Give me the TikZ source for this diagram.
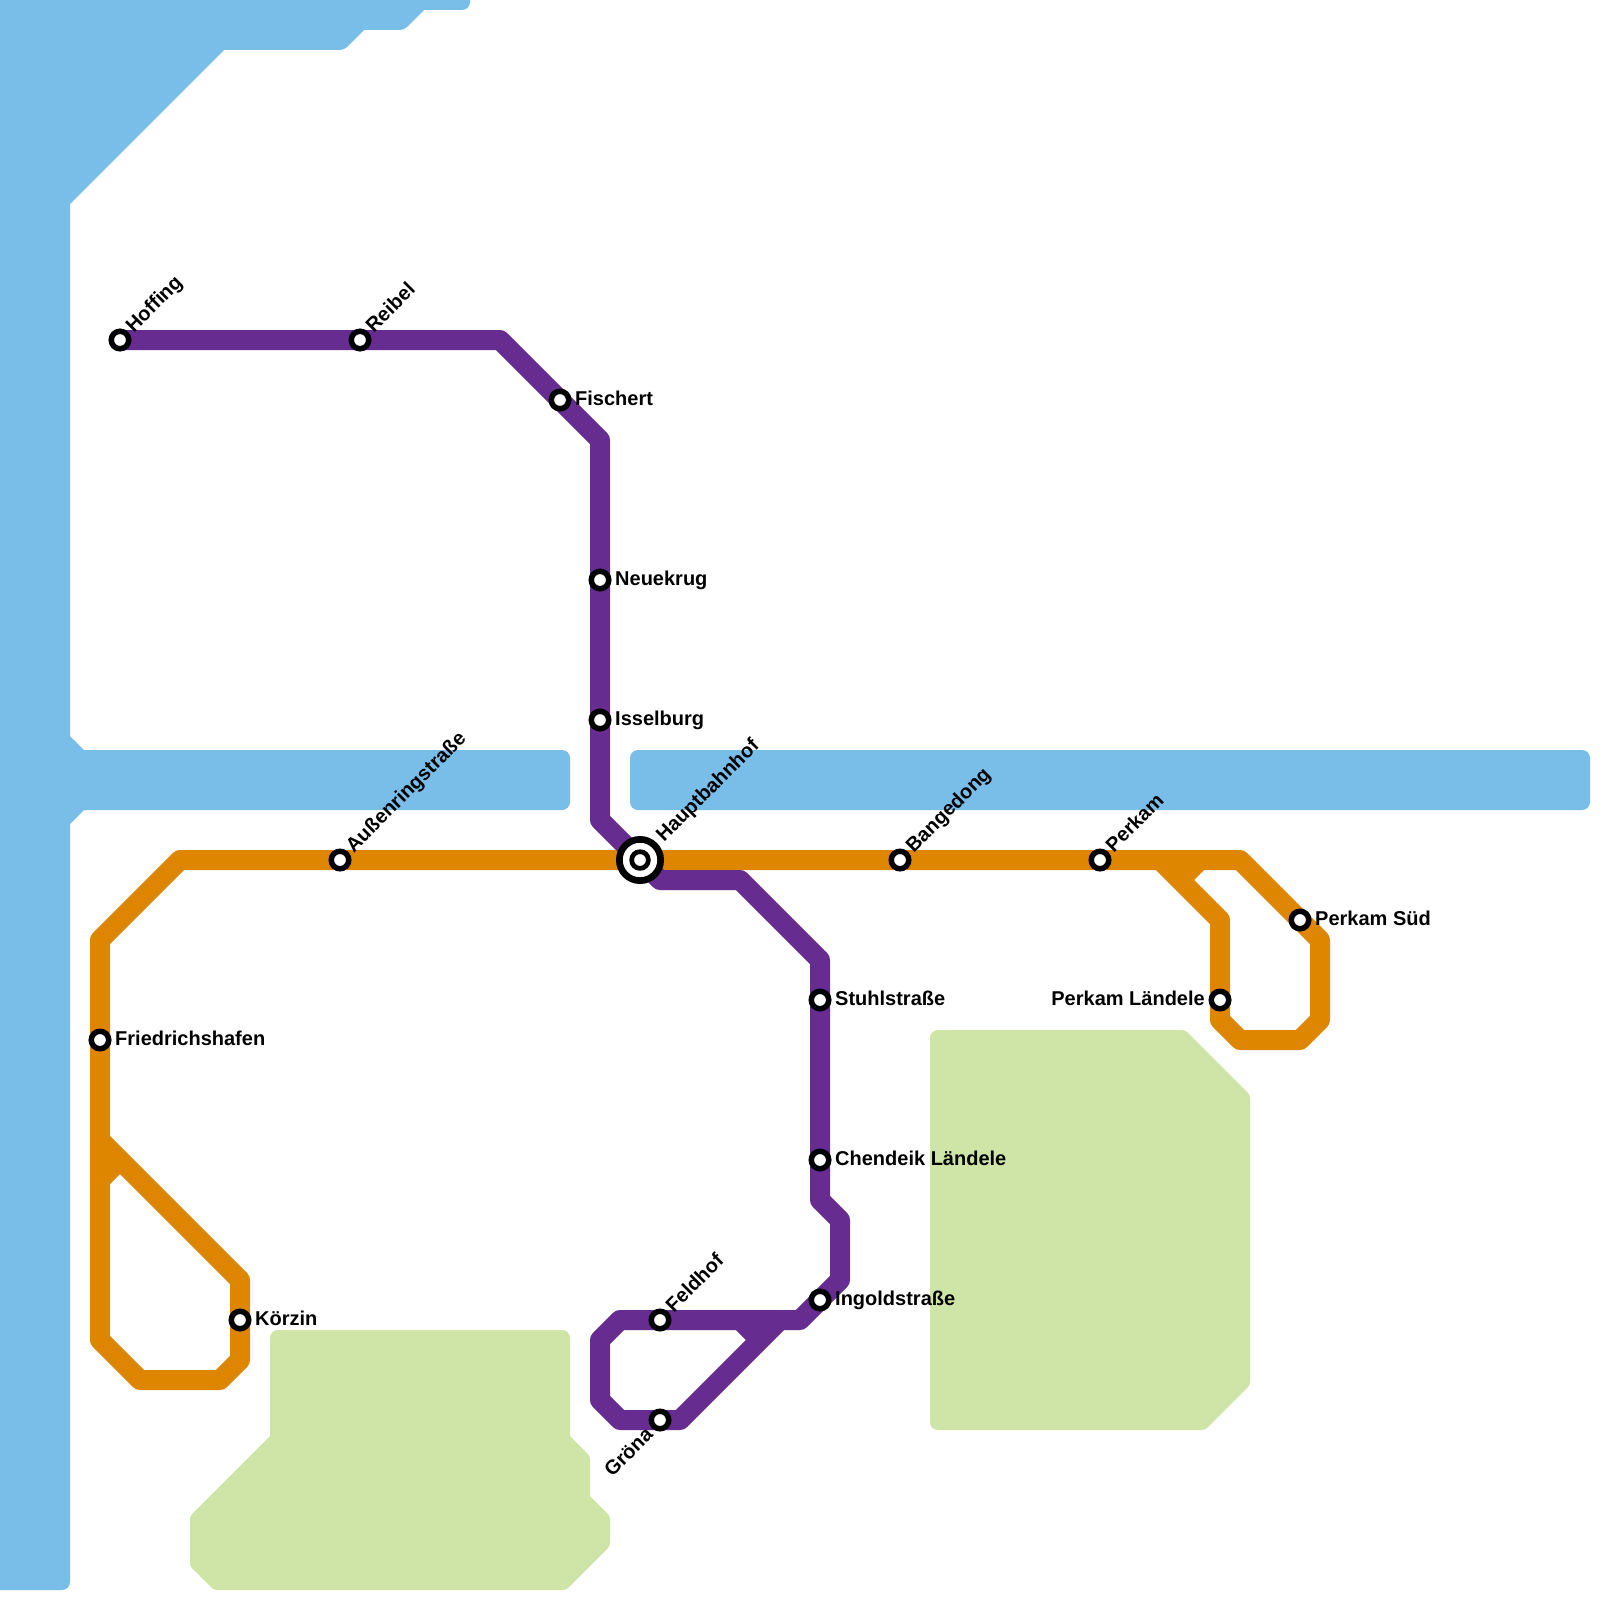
\documentclass[tikz,border=0pt]{standalone}
\usepackage{fontspec}
\setmainfont{Liberation Sans}
\usetikzlibrary{positioning,backgrounds}
\definecolor{waterblue}{RGB}{121,189,233}
\definecolor{parkgreen}{RGB}{207,228,167}
\definecolor{lineorange}{RGB}{223,134,0}
\definecolor{linepurple}{RGB}{102,44,144}
\tikzset{
  water/.style={fill=waterblue},
  park/.style={fill=parkgreen},
  route/.style={line width=20pt, line join=round},
  orangeroute/.style={route, draw=lineorange},
  purpleroute/.style={route, draw=linepurple},
  stop/.style={circle, draw=black, fill=white, line width=5.5pt, inner sep=0pt, minimum size=17.5pt},
  hubring/.style={stop, line width=6.7pt, minimum size=41.3pt},
  hubdot/.style={stop, line width=4.7pt, minimum size=16.7pt},
  lbl/.style={font=\fontsize{20}{22}\selectfont\bfseries, inner sep=0pt, text=black},
  lblright/.style={lbl, anchor=base west, yshift=-5pt},
  lblleft/.style={lbl, anchor=base east, yshift=-5pt},
  diag/.style={lbl, rotate=45},
}

\begin{document}
\begin{tikzpicture}[x=1pt, y=-1pt, node distance=4pt and 4pt]
  \useasboundingbox (0,0) rectangle (1600,1600);
  % stations
  \node[stop] (hoffing) at (120,340) {};
  \node[stop] (reibel) at (360,340) {};
  \node[stop] (fischert) at (560,400) {};
  \node[stop] (neuekrug) at (600,580) {};
  \node[stop] (isselburg) at (600,720) {};
  \node[hubring] (hbfring) at (640,860) {};
  \node[hubdot] (hbf) at (640,860) {};
  \node[stop] (aussenring) at (340,860) {};
  \node[stop] (bangedong) at (900,860) {};
  \node[stop] (perkam) at (1100,860) {};
  \node[stop] (perkamsued) at (1300,920) {};
  \node[stop] (perkamland) at (1220,1000) {};
  \node[stop] (friedrichshafen) at (100,1040) {};
  \node[stop] (koerzin) at (240,1320) {};
  \node[stop] (stuhl) at (820,1000) {};
  \node[stop] (chendeik) at (820,1160) {};
  \node[stop] (ingold) at (820,1300) {};
  \node[stop] (feldhof) at (660,1320) {};
  \node[stop] (groena) at (660,1420) {};
  % labels
  \node[right=3.5pt of fischert, lblright] {Fischert};
  \node[right=3.5pt of neuekrug, lblright] {Neuekrug};
  \node[right=3.5pt of isselburg, lblright] {Isselburg};
  \node[right=3.5pt of stuhl, lblright] {Stuhlstraße};
  \node[right=3.5pt of chendeik, lblright] {Chendeik Ländele};
  \node[right=3.5pt of ingold, lblright] {Ingoldstraße};
  \node[right=3.5pt of friedrichshafen, lblright] {Friedrichshafen};
  \node[right=3.5pt of koerzin, lblright] {Körzin};
  \node[right=3.5pt of perkamsued, lblright] {Perkam Süd};
  \node[left=3.5pt of perkamland, lblleft] {Perkam Ländele};
  \node[diag, above right=-1.5pt and 5.5pt of hoffing, anchor=base west] {Hoffing};
  \node[diag, above right=-1.5pt and 5.5pt of reibel, anchor=base west] {Reibel};
  \node[diag, above right=-1.5pt and 5.5pt of aussenring, anchor=base west] {Außenringstraße};
  \node[diag, above right=0pt and 7pt of hbfring, anchor=base west] {Hauptbahnhof};
  \node[diag, above right=-1.5pt and 5.5pt of bangedong, anchor=base west] {Bangedong};
  \node[diag, above right=-1.5pt and 5.5pt of perkam, anchor=base west] {Perkam};
  \node[diag, above right=-1.5pt and 5.5pt of feldhof, anchor=base west] {Feldhof};
  \node[diag, below left=7.6pt and -2.2pt of groena, anchor=base east] {Gröna};
  \begin{scope}[on background layer]
    % water
    \fill[water] (0,0) -- (470,0) [rounded corners=8pt] -- (470,10) [sharp corners] -- (424,10)
      [rounded corners=4pt] -- (404,30) [sharp corners] -- (364,30)
      [rounded corners=4pt] -- (344,50) [sharp corners] -- (224,50) -- (70,204) -- (70,736) -- (84,750)
      [rounded corners=8pt] -- (570,750) -- (570,810) [sharp corners] -- (84,810) -- (70,824)
      [rounded corners=8pt] -- (70,1590) [sharp corners] -- (0,1590) -- cycle;
    \fill[water, rounded corners=8pt] (630,750) rectangle (1590,810);
    % parks
    \fill[park] (270,1436) [rounded corners=8pt] -- (270,1330) -- (570,1330) [sharp corners] -- (570,1436)
      [rounded corners=3pt] -- (590,1456) [sharp corners] -- (590,1496)
      [rounded corners=3pt] -- (610,1516) -- (610,1546) -- (566,1590) -- (214,1590)
      -- (190,1566) -- (190,1516) [sharp corners] -- cycle;
    \fill[park] (930,1230) [rounded corners=8pt] -- (930,1030) [rounded corners=3pt] -- (1185,1030)
      -- (1250,1095) -- (1250,1385) -- (1205,1430) [rounded corners=8pt] -- (930,1430) [sharp corners] -- cycle;
    % orange line
    \draw[orangeroute] (friedrichshafen.center) -- (100,940) -- (180,860) -- (aussenring.center)
      -- (hbf.center) -- (bangedong.center) -- (perkam.center) -- (1240,860)
      -- (perkamsued.center) -- (1320,940) -- (1320,1020) -- (1300,1040) -- (1240,1040)
      -- (1220,1020) -- (perkamland.center) -- (1220,920) -- (1160,860);
    \draw[orangeroute] (1180,880) -- (1200,860);
    \draw[orangeroute] (friedrichshafen.center) -- (100,1340) -- (140,1380) -- (220,1380)
      -- (240,1360) -- (koerzin.center) -- (240,1280) -- (100,1140);
    \draw[orangeroute] (120,1160) -- (100,1180);
    % purple line
    \draw[purpleroute] (hoffing.center) -- (reibel.center) -- (500,340) -- (fischert.center)
      -- (600,440) -- (neuekrug.center) -- (isselburg.center) -- (600,820) -- (hbf.center)
      -- (660,880) -- (740,880) -- (820,960) -- (stuhl.center) -- (chendeik.center) -- (820,1200)
      -- (840,1220) -- (840,1280) -- (ingold.center) -- (800,1320) -- (feldhof.center)
      -- (620,1320) -- (600,1340) -- (600,1400) -- (620,1420) -- (groena.center) -- (680,1420)
      -- (780,1320);
    \draw[purpleroute] (760,1340) -- (740,1320);
  \end{scope}
\end{tikzpicture}
\end{document}
